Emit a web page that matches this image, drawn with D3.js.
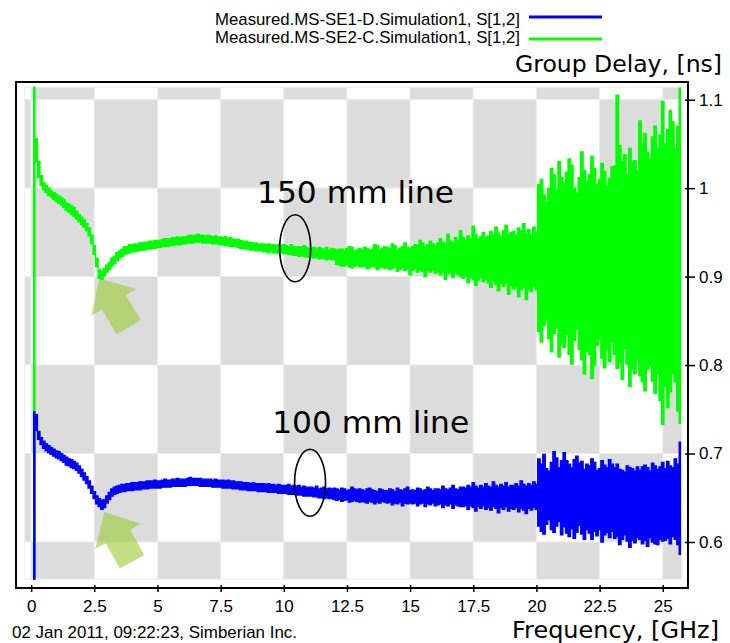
<!DOCTYPE html>
<html>
<head>
<meta charset="utf-8">
<script src="https://cdn.jsdelivr.net/npm/d3@7"></script>
<style>
  body { margin: 0; background: #fff; }
  .small { font-family: "Liberation Sans Narrow", "Liberation Sans", Arial, sans-serif; font-size: 17px; fill: #000; }
  .big { font-family: "DejaVu Sans", Verdana, sans-serif; fill: #000; }
</style>
</head>
<body>
<div id="canvas"></div>
<script>
// DATA  (group delay in ps, sampled every 0.1 GHz from 0.1 to 25.7 GHz)
const freqGHz = d3.range(1, 258).map(i => i / 10);

const seriesNames = [
  "Measured.MS-SE1-D.Simulation1, S[1,2]",
  "Measured.MS-SE2-C.Simulation1, S[1,2]"
];

// 150 mm line (green) upper / lower trace envelope
const greenHi = [
  1114,1056,1030,1014,1006,1003,1000,997,995,993,
  991,989,987,983,982,980,978,974,970,967,
  964,960,955,947,935,921,908,906,909,913,
  916,921,923,927,929,931,934,934,936,936,
  937,936,938,938,939,939,940,940,941,941,
  941,942,943,942,943,944,944,945,944,945,
  945,946,947,946,947,948,947,947,946,947,
  946,945,946,945,945,944,945,943,944,942,
  942,942,941,940,940,939,939,938,938,937,
  937,937,936,937,936,936,935,936,935,936,
  935,934,936,934,933,934,933,935,933,932,
  932,933,931,933,932,931,933,930,932,931,
  930,931,931,929,932,934,933,930,930,932,
  931,933,932,930,931,936,935,931,932,934,
  933,932,937,935,931,932,934,938,933,932,
  934,936,935,941,938,934,936,940,937,935,
  938,943,939,937,948,940,938,944,941,952,
  944,940,946,943,957,948,942,945,950,944,
  946,951,947,956,949,945,952,958,948,950,
  951,947,955,952,960,949,953,947,956,950,
  1004,1010,992,985,1000,1022,1015,998,1030,1012,
  1005,1018,1033,1026,1000,994,1012,1041,1020,1008,
  1015,1036,1022,1004,1010,1028,1019,1002,1011,1024,
  1025,1105,1048,1030,1038,1015,1045,1029,1031,1020,
  1076,1050,1062,1040,1033,1058,1070,1045,1060,1098,
  1050,1066,1088,1075,1045,1070,1113
];
const greenLo = [
  558,1030,1012,1003,998,995,992,990,987,985,
  983,981,978,975,973,970,968,965,962,959,
  956,952,946,937,925,911,898,897,901,905,
  908,912,915,918,921,923,925,926,927,928,
  928,929,929,930,930,931,931,932,932,933,
  933,934,934,934,935,935,936,936,936,937,
  937,938,938,938,939,939,939,938,938,938,
  938,937,937,937,936,936,935,935,934,934,
  934,933,932,932,931,931,930,930,929,929,
  929,928,928,927,928,927,927,926,927,926,
  926,925,925,924,924,923,924,923,922,922,
  922,921,922,920,921,920,919,920,919,919,
  914,913,912,912,914,911,910,912,913,911,
  911,912,909,910,912,911,908,910,911,909,
  910,908,909,911,906,908,910,907,909,902,
  907,909,905,908,906,900,907,905,908,904,
  905,902,906,897,903,904,899,905,902,900,
  898,901,893,899,897,890,896,899,894,897,
  893,888,895,891,884,892,889,893,880,890,
  886,889,877,885,888,874,886,883,889,885,
  838,826,845,851,830,815,836,842,809,824,
  820,835,812,801,828,840,818,806,790,815,
  812,785,800,822,830,808,797,818,804,826,
  812,796,803,784,819,801,776,795,790,806,
  788,781,771,795,800,782,768,790,760,733,
  776,752,770,790,781,748,734
];

// 100 mm line (blue) upper / lower trace envelope
const blueHi = [
  747,744,725,718,714,711,709,707,705,703,
  702,700,698,696,694,693,691,689,686,682,
  678,674,669,663,657,652,649,647,648,652,
  656,660,662,663,664,665,665,666,666,667,
  667,667,668,668,668,669,669,669,670,669,
  669,670,671,670,670,671,671,672,671,671,
  671,672,673,672,672,672,672,671,671,671,
  671,670,671,670,670,670,669,670,669,669,
  668,668,668,667,667,667,666,667,666,666,
  666,666,665,666,665,665,664,665,664,664,
  664,665,663,664,663,664,662,663,662,662,
  662,661,663,660,661,662,660,661,660,661,
  660,659,661,660,658,659,662,660,659,660,
  659,658,660,661,659,658,657,660,659,658,
  658,660,659,657,661,659,658,660,662,658,
  659,658,661,660,658,659,662,660,658,660,
  660,659,663,660,659,661,664,660,659,662,
  662,661,664,662,667,663,661,664,662,666,
  663,662,668,664,662,665,663,667,662,664,
  664,666,663,669,665,663,666,664,668,665,
  694,688,699,683,680,690,702,695,684,692,
  701,692,688,684,693,697,689,691,682,688,
  686,694,690,681,683,692,687,684,693,688,
  684,688,682,681,679,686,684,683,680,685,
  681,685,687,684,680,689,686,682,685,690,
  683,691,686,684,694,688,713
];
const blueLo = [
  558,726,716,710,706,703,701,699,697,695,
  694,692,690,687,686,684,683,681,678,674,
  670,666,661,655,649,643,640,637,639,644,
  648,652,654,655,656,657,657,658,658,658,
  659,659,659,660,660,660,661,661,661,661,
  661,662,662,662,662,663,663,663,663,663,
  663,664,664,664,664,664,663,663,663,663,
  663,662,662,662,662,661,661,661,661,660,
  660,660,659,659,659,658,658,658,658,657,
  657,657,657,656,656,656,656,655,655,655,
  655,654,654,654,653,653,653,652,652,652,
  652,651,651,650,650,649,650,649,649,648,
  647,648,646,647,648,645,646,647,646,645,
  646,645,644,646,645,643,645,644,646,645,
  644,645,642,644,643,645,641,644,643,644,
  643,644,641,643,644,640,643,642,644,641,
  642,643,639,642,641,643,638,642,641,640,
  640,641,637,641,639,635,640,638,641,637,
  639,636,640,638,633,639,637,640,635,638,
  637,639,634,638,636,632,638,636,639,637,
  618,612,609,620,625,614,611,618,623,608,
  617,610,606,615,604,611,619,609,603,614,
  610,603,612,607,614,600,608,611,605,612,
  604,606,597,603,608,601,594,602,599,605,
  603,598,602,595,605,600,598,597,603,601,
  602,604,598,606,603,597,586
];

// TICKS
const xTicks = [0, 2.5, 5, 7.5, 10, 12.5, 15, 17.5, 20, 22.5, 25];
const xTickLabels = ["0", "2.5", "5", "7.5", "10", "12.5", "15", "17.5", "20", "22.5", "25"];
const yTicks = [0.6, 0.7, 0.8, 0.9, 1.0, 1.1];
const yTickLabels = ["0.6", "0.7", "0.8", "0.9", "1", "1.1"];

// ANNOTATIONS (data coordinates)
const labelNotes = [
  { text: "150 mm line", f: 8.94, v: 0.983 },
  { text: "100 mm line", f: 9.54, v: 0.7234 }
];
const ellipseNotes = [{ f: 10.45, v: 0.932 }, { f: 11.04, v: 0.667 }];
const arrowNotes = [{ f: 2.7, v: 0.898, angle: 59 }, { f: 2.9, v: 0.634, angle: 61 }];

function drawGraph() {
  // DIMENSIONS
  const width = 730;
  const height = 643;
  const frame = { left: 16, right: 688, top: 82, bottom: 588 };

  const svg = d3.select("#canvas")
    .append("svg")
    .attr("width", width)
    .attr("height", height)
    .style("display", "block");

  // SCALES
  const xScale = d3.scaleLinear().domain([-0.6, 26.0]).range([frame.left, frame.right]);
  const yScale = d3.scaleLinear().domain([0.548, 1.12]).range([frame.bottom, frame.top]);

  // CHECKERBOARD (spans the data extent, cells split at ticks)
  const gridTop = d3.max(greenHi) / 1000;
  const gridBottom = d3.min(greenLo) / 1000;
  const colEdges = [-0.25, ...xTicks, 25.75];
  const rowEdges = [gridTop, ...yTicks.slice().reverse(), gridBottom];
  const cells = [];
  for (let j = 0; j < colEdges.length - 1; j++) {
    for (let k = 0; k < rowEdges.length - 1; k++) {
      cells.push({ x0: colEdges[j], x1: colEdges[j + 1], y0: rowEdges[k], y1: rowEdges[k + 1], grey: (j + k) % 2 === 1 });
    }
  }
  svg.append("g")
    .selectAll("rect")
    .data(cells)
    .join("rect")
    .attr("x", d => xScale(d.x0))
    .attr("y", d => yScale(d.y0))
    .attr("width", d => xScale(d.x1) - xScale(d.x0))
    .attr("height", d => yScale(d.y1) - yScale(d.y0))
    .attr("fill", d => d.grey ? "#dcdcdc" : "#ffffff")
    .attr("stroke", "#ececec")
    .attr("stroke-width", 1);

  // TRACES
  const traces = [
    { hi: greenHi, lo: greenLo, color: "#00ff00" },
    { hi: blueHi, lo: blueLo, color: "#0000ff" }
  ];
  const area = d3.area()
    .x(d => xScale(d.f))
    .y0(d => yScale(d.lo / 1000))
    .y1(d => yScale(d.hi / 1000))
    .curve(d3.curveStep);

  svg.append("g")
    .selectAll("path")
    .data(traces)
    .join("path")
    .attr("d", t => area(freqGHz.map((f, i) => ({ f: f, hi: t.hi[i], lo: t.lo[i] }))))
    .attr("fill", t => t.color)
    .attr("stroke", t => t.color)
    .attr("stroke-width", 1.3);

  // ARROWS
  svg.append("g")
    .selectAll("path")
    .data(arrowNotes)
    .join("path")
    .attr("transform", d => `translate(${xScale(d.f)},${yScale(d.v)}) rotate(${d.angle})`)
    .attr("d", "M0,0 L28,-26 L28,-14 L57,-14 L57,14 L28,14 L28,26 Z")
    .attr("fill", "#9acd32")
    .attr("opacity", 0.6);

  // ELLIPSES + LABELS
  svg.append("g")
    .selectAll("ellipse")
    .data(ellipseNotes)
    .join("ellipse")
    .attr("cx", d => xScale(d.f))
    .attr("cy", d => yScale(d.v))
    .attr("rx", 15.5)
    .attr("ry", 33.5)
    .attr("fill", "none")
    .attr("stroke", "#000")
    .attr("stroke-width", 1.6);

  svg.append("g")
    .selectAll("text")
    .data(labelNotes)
    .join("text")
    .attr("class", "big")
    .attr("x", d => xScale(d.f))
    .attr("y", d => yScale(d.v))
    .attr("font-size", 30)
    .attr("textLength", 197)
    .attr("lengthAdjust", "spacingAndGlyphs")
    .text(d => d.text);

  // FRAME
  svg.append("rect")
    .attr("x", frame.left)
    .attr("y", frame.top)
    .attr("width", frame.right - frame.left)
    .attr("height", frame.bottom - frame.top)
    .attr("fill", "none")
    .attr("stroke", "#000")
    .attr("stroke-width", 2);

  // AXES
  const xAx = d3.axisBottom(xScale)
    .tickValues(xTicks)
    .tickFormat((d, i) => xTickLabels[i])
    .tickSize(4)
    .tickPadding(8);
  const xAxisHolder = svg.append("g")
    .attr("transform", `translate(0, ${frame.bottom})`)
    .call(xAx);

  const yAx = d3.axisRight(yScale)
    .tickValues(yTicks)
    .tickFormat((d, i) => yTickLabels[i])
    .tickSize(6)
    .tickPadding(4);
  const yAxisHolder = svg.append("g")
    .attr("transform", `translate(${frame.right + 1}, 0)`)
    .call(yAx);

  [xAxisHolder, yAxisHolder].forEach(g => {
    g.select(".domain").remove();
    g.selectAll("line").attr("stroke", "#000").attr("stroke-width", 1.5);
    g.selectAll("text").attr("class", "small").attr("font-size", null).attr("font-family", null);
  });
  xAxisHolder.selectAll("line").attr("y1", -3);
  yAxisHolder.selectAll("line").attr("x1", -4);

  // LEGEND
  const legend = svg.append("g");
  const legendColors = ["#0000ff", "#00ff00"];
  seriesNames.forEach((name, i) => {
    legend.append("text")
      .attr("class", "small")
      .attr("x", 215)
      .attr("y", 25 + i * 18)
      .attr("font-size", 15)
      .attr("textLength", 305)
      .attr("lengthAdjust", "spacingAndGlyphs")
      .text(name);
    legend.append("line")
      .attr("x1", 529)
      .attr("x2", 602)
      .attr("y1", 17 + i * 22)
      .attr("y2", 17 + i * 22)
      .attr("stroke", legendColors[i])
      .attr("stroke-width", 3);
  });

  // AXIS TITLES
  svg.append("text")
    .attr("class", "big")
    .attr("x", 515)
    .attr("y", 72)
    .attr("font-size", 23)
    .attr("textLength", 207)
    .attr("lengthAdjust", "spacingAndGlyphs")
    .text("Group Delay, [ns]");

  svg.append("text")
    .attr("class", "big")
    .attr("x", 512)
    .attr("y", 638)
    .attr("font-size", 23)
    .attr("textLength", 207)
    .attr("lengthAdjust", "spacingAndGlyphs")
    .text("Frequency, [GHz]");

  // FOOTER
  svg.append("text")
    .attr("class", "small")
    .attr("x", 12)
    .attr("y", 638)
    .attr("font-size", 16)
    .attr("textLength", 285)
    .attr("lengthAdjust", "spacingAndGlyphs")
    .text("02 Jan 2011, 09:22:23, Simberian Inc.");
}

drawGraph();
</script>
</body>
</html>
